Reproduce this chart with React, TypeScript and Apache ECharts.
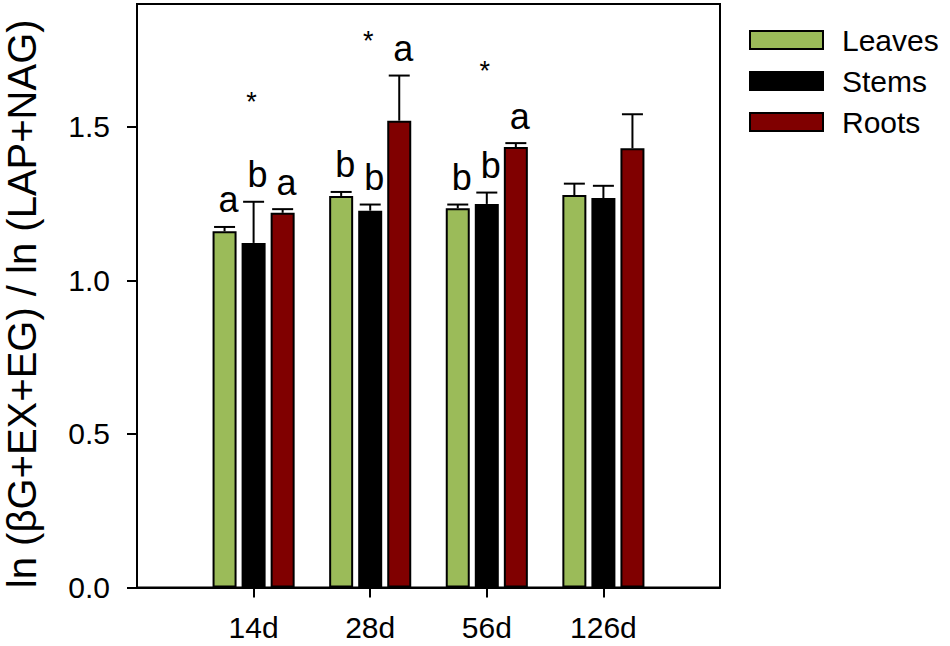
import React, { useEffect, useRef } from "react";
import * as echarts from "echarts";

const categories = ["14d", "28d", "56d", "126d"];
const seriesNames = ["Leaves", "Stems", "Roots"];
const leavesValues = [1.16, 1.275, 1.235, 1.278];
const stemsValues = [1.122, 1.227, 1.249, 1.268];
const rootsValues = [1.22, 1.52, 1.434, 1.43];
const leavesErrors = [0.014, 0.013, 0.012, 0.037];
const stemsErrors = [0.134, 0.02, 0.037, 0.04];
const rootsErrors = [0.012, 0.147, 0.013, 0.111];
const leavesLetters = ["a", "b", "b", ""];
const stemsLetters = ["b", "b", "b", ""];
const rootsLetters = ["a", "a", "a", ""];
const starLevels = [1.6, 1.8, 1.7, null];
const yTicks = [0, 0.5, 1.0, 1.5];

const colors = ["#9BBB59", "#000000", "#800000"];
const FONT = "'Liberation Sans', Arial, Helvetica, sans-serif";
const BAR_W = 24;
const BAR_GAP = 0.21;
const STRIDE = BAR_W * (1 + BAR_GAP);

export default function App() {
  const ref = useRef<HTMLDivElement>(null);

  useEffect(() => {
    document.body.style.margin = "0";
    if (!ref.current) return;
    const chart = echarts.init(ref.current, null, { renderer: "svg" });

    const values = [leavesValues, stemsValues, rootsValues];
    const errors = [leavesErrors, stemsErrors, rootsErrors];
    const letters = [leavesLetters, stemsLetters, rootsLetters];
    const axisCats = ["", ...categories, ""];

    const errData: number[][] = [];
    const letterList: string[] = [];
    for (let s = 0; s < 3; s++) {
      for (let c = 0; c < categories.length; c++) {
        errData.push([c + 1, values[s][c], errors[s][c], s]);
        letterList.push(letters[s][c]);
      }
    }
    const starData: number[][] = [];
    starLevels.forEach((lv, c) => {
      if (lv != null) starData.push([c + 1, lv]);
    });

    const barSeries = seriesNames.map((name, s) => ({
      name,
      type: "bar",
      data: [null, ...values[s], null],
      barWidth: BAR_W,
      barGap: Math.round(BAR_GAP * 100) + "%",
      itemStyle: { color: colors[s], borderColor: "#000", borderWidth: 2 },
      emphasis: { disabled: true },
    }));

    const option: any = {
      animation: false,
      grid: {
        left: 137,
        right: 230,
        top: 4,
        bottom: 58.5,
        show: true,
        borderColor: "#000",
        borderWidth: 2,
        containLabel: false,
        outerBoundsMode: "none",
      },
      legend: {
        data: seriesNames,
        orient: "vertical",
        left: 749,
        top: 25,
        padding: 0,
        itemWidth: 73,
        itemHeight: 18,
        itemGap: 11,
        icon: "rect",
        textStyle: {
          fontSize: 30,
          fontFamily: FONT,
          color: "#000",
          padding: [0, 0, 0, 14],
        },
      },
      xAxis: {
        type: "category",
        data: axisCats,
        boundaryGap: false,
        axisLine: { lineStyle: { color: "#000", width: 2 } },
        axisTick: {
          length: 10,
          lineStyle: { color: "#000", width: 2 },
          interval: (i: number) => i > 0 && i < axisCats.length - 1,
        },
        axisLabel: {
          fontSize: 30,
          fontFamily: FONT,
          color: "#000",
          margin: 25,
          interval: 0,
        },
        splitLine: { show: false },
      },
      yAxis: {
        type: "value",
        min: 0,
        max: 1.9,
        name: "ln (βG+EX+EG) / ln (LAP+NAG)",
        nameLocation: "middle",
        nameRotate: 90,
        nameGap: 95,
        nameTextStyle: { fontSize: 40, fontFamily: FONT, color: "#000", padding: [0, 16, 0, 0] },
        axisLine: { show: true, lineStyle: { color: "#000", width: 2 } },
        axisTick: {
          show: true,
          length: 10,
          lineStyle: { color: "#000", width: 2 },
          customValues: yTicks,
        },
        axisLabel: {
          fontSize: 30,
          fontFamily: FONT,
          color: "#000",
          margin: 27,
          customValues: yTicks,
          formatter: (v: number) => v.toFixed(1),
        },
        splitLine: { show: false },
      },
      series: [
        ...barSeries,
        {
          type: "custom",
          name: "errors",
          data: errData,
          encode: { x: 0, y: 1 },
          z: 5,
          renderItem: (params: any, api: any) => {
            const x = api.value(0);
            const v = api.value(1);
            const e = api.value(2);
            const s = api.value(3);
            const p0 = api.coord([x, v]);
            const p1 = api.coord([x, v + e]);
            const cx = p0[0] + (s - 1) * STRIDE;
            const style = { stroke: "#000", lineWidth: 2 };
            return {
              type: "group",
              children: [
                { type: "line", shape: { x1: cx, y1: p0[1], x2: cx, y2: p1[1] }, style },
                { type: "line", shape: { x1: cx - 10.5, y1: p1[1], x2: cx + 10.5, y2: p1[1] }, style },
              ],
            };
          },
        },
        {
          type: "custom",
          name: "letters",
          data: errData,
          encode: { x: 0, y: 1 },
          z: 6,
          renderItem: (params: any, api: any) => {
            const x = api.value(0);
            const v = api.value(1);
            const e = api.value(2);
            const s = api.value(3);
            const p1 = api.coord([x, v + e]);
            const cx = api.coord([x, v])[0] + (s - 1) * STRIDE + 4;
            const txt = letterList[params.dataIndex];
            if (!txt) return null;
            return {
              type: "text",
              x: cx,
              y: p1[1] - 9,
              style: {
                text: txt,
                fontSize: 36,
                fontFamily: FONT,
                fill: "#000",
                align: "center",
                verticalAlign: "bottom",
              },
            };
          },
        },
        {
          type: "custom",
          name: "stars",
          data: starData,
          encode: { x: 0, y: 1 },
          z: 6,
          renderItem: (params: any, api: any) => {
            const p = api.coord([api.value(0), api.value(1)]);
            return {
              type: "text",
              x: p[0] - 2,
              y: p[1] + 6,
              style: {
                text: "*",
                fontSize: 27,
                fontFamily: FONT,
                fill: "#000",
                align: "center",
                verticalAlign: "middle",
              },
            };
          },
        },
      ],
    };

    chart.setOption(option);
    return () => chart.dispose();
  }, []);

  return (
    <div
      ref={ref}
      style={{ position: "fixed", left: 0, top: 0, width: 950, height: 646, background: "#fff" }}
    />
  );
}
